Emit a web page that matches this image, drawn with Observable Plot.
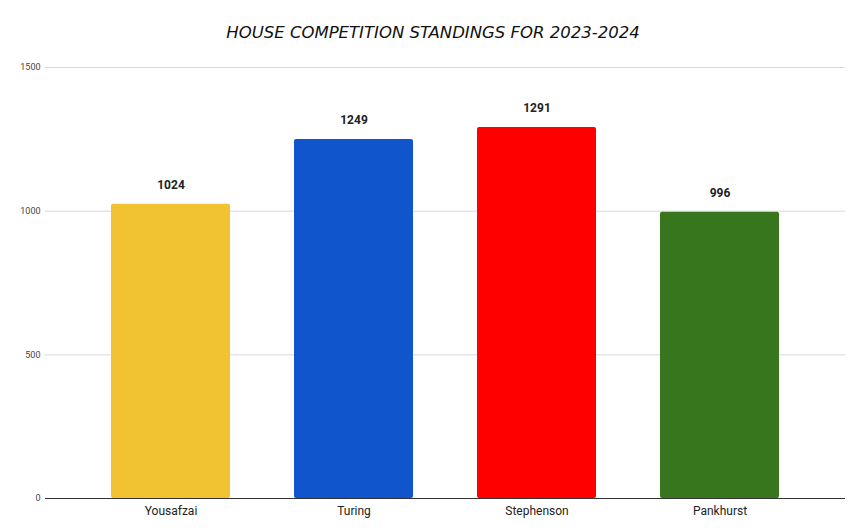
<!DOCTYPE html>
<html><head><meta charset="utf-8">
<script src="https://cdn.jsdelivr.net/npm/d3@7"></script>
<script src="https://cdn.jsdelivr.net/npm/@observablehq/plot@0.6"></script>
<style>
body{margin:0;background:#fff;}
#title{height:50px;width:852px;box-sizing:border-box;padding-left:14px;text-align:center;font-family:"DejaVu Sans",sans-serif;font-style:italic;font-size:16.5px;line-height:50px;padding-top:8px;color:#111;}
</style></head>
<body>
<div id="title">HOUSE COMPETITION STANDINGS FOR 2023-2024</div>
<div id="chart"></div>
<script>
const houses = ["Yousafzai", "Turing", "Stephenson", "Pankhurst"];
const points = [1024, 1249, 1291, 996];
const colors = ["#f1c232", "#1155cc", "#ff0000", "#38761d"];
const yTicks = [0, 500, 1000, 1500];

const data = houses.map((h, i) => ({house: h, points: points[i], color: colors[i]}));

const chart = Plot.plot({
  width: 852,
  height: 482,
  marginLeft: 45,
  marginRight: 7,
  marginTop: 17,
  marginBottom: 34,
  style: {fontFamily: "Roboto, sans-serif", background: "#fff"},
  x: {domain: houses, padding: 0.35, label: null, tickSize: 0, tickPadding: 8},
  y: {domain: [0, 1500], ticks: yTicks, label: null, tickSize: 0, tickPadding: 5},
  color: {type: "identity"},
  marks: [
    Plot.gridY(yTicks.filter(d => d > 0), {stroke: "#d9d9d9", strokeOpacity: 1}),
    Plot.barY(data, {x: "house", y: "points", fill: "color", rx: 2}),
    Plot.ruleY([0], {stroke: "#333", strokeWidth: 1}),
    Plot.text(data, {x: "house", y: "points", text: d => String(d.points), dy: -19, fontWeight: "bold", fontSize: 12, fill: "#222"}),
    Plot.axisX({tickSize: 0, tickPadding: 8, fontSize: 12, fill: "#222"}),
    Plot.axisY({ticks: yTicks, tickFormat: d => String(d), tickSize: 0, tickPadding: 5, fontSize: 9, fill: "#444"})
  ]
});
document.getElementById("chart").appendChild(chart);
</script>
</body></html>
